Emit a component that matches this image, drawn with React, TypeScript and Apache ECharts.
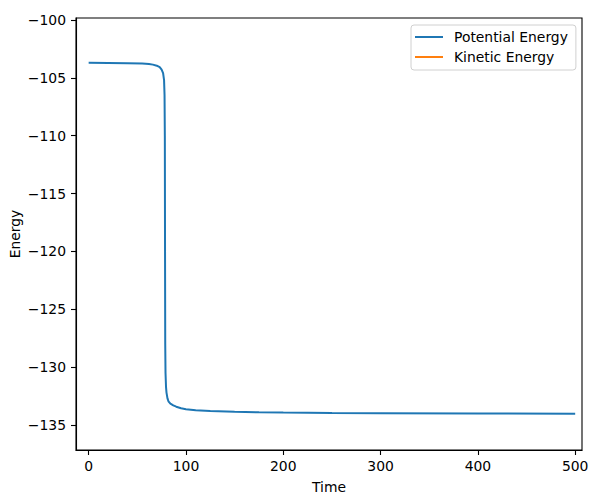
import React, { useEffect, useRef } from "react";
import * as echarts from "echarts";

const timeValues = [0, 20, 40, 55, 62, 66, 70, 73, 75, 76.5, 77.5, 78, 78.3, 78.5, 78.7, 79, 79.5, 80, 81, 82, 84, 87, 90, 95, 100, 110, 125, 150, 175, 200, 250, 300, 400, 500];
const potentialEnergy = [-103.7, -103.71, -103.73, -103.76, -103.8, -103.86, -103.95, -104.08, -104.3, -104.6, -105.2, -106.5, -110, -120, -128, -130.5, -131.7, -132.2, -132.7, -132.95, -133.15, -133.3, -133.42, -133.55, -133.63, -133.72, -133.8, -133.86, -133.9, -133.93, -133.96, -133.98, -134.0, -134.02];
const kineticEnergy: number[] = [];
const xTicks = [0, 100, 200, 300, 400, 500];
const yTicks = [-135, -130, -125, -120, -115, -110, -105, -100];

const FONT = "DejaVu Sans";
const FS = 13.9;
const LINE_ICON = "path://M0,6 L28,6 L28,8 L0,8 Z";

export default function App() {
  const ref = useRef<HTMLDivElement>(null);
  useEffect(() => {
    const chart = echarts.init(ref.current!, null, { renderer: "svg" });
    const minus = (v: number | string) => String(v).replace("-", "\u2212");
    chart.setOption({
      animation: false,
      backgroundColor: "#ffffff",
      textStyle: { fontFamily: FONT },
      grid: { left: 76, right: 17, top: 18, bottom: 48, containLabel: false, outerBoundsMode: "none", show: true, borderColor: "#000", borderWidth: 1.1, backgroundColor: "transparent" },
      legend: {
        orient: "vertical",
        left: 411,
        top: 25,
        padding: [5, 8, 6, 4],
        itemGap: 6,
        itemWidth: 28,
        itemHeight: 14,
        borderColor: "#d0d0d0",
        borderWidth: 1,
        borderRadius: 3,
        backgroundColor: "rgba(255,255,255,0.8)",
        textStyle: { fontFamily: FONT, fontSize: FS, color: "#000", padding: [0, 0, 0, 6] },
        data: [
          { name: "Potential Energy", icon: LINE_ICON, itemStyle: { color: "#1f77b4" } },
          { name: "Kinetic Energy", icon: LINE_ICON, itemStyle: { color: "#ff7f0e" } },
        ],
      },
      xAxis: {
        type: "value",
        min: -13,
        max: 507,
        name: "Time",
        nameLocation: "middle",
        nameGap: 30,
        nameMoveOverlap: false,
        nameTextStyle: { fontFamily: FONT, fontSize: FS, color: "#000" },
        splitLine: { show: false },
        axisLine: { show: true, onZero: false, lineStyle: { color: "#000", width: 1.1 } },
        axisTick: { show: true, inside: false, length: 5, customValues: xTicks, lineStyle: { color: "#000", width: 1.1 } },
        axisLabel: { customValues: xTicks, margin: 9, fontFamily: FONT, fontSize: FS, color: "#000", formatter: (v: number) => minus(v) },
      },
      yAxis: {
        type: "value",
        min: -137.16,
        max: -99.83,
        name: "Energy",
        nameLocation: "middle",
        nameGap: 54.5,
        nameMoveOverlap: false,
        nameRotate: 90,
        nameTextStyle: { fontFamily: FONT, fontSize: FS, color: "#000" },
        splitLine: { show: false },
        axisLine: { show: true, onZero: false, lineStyle: { color: "#000", width: 1.1 } },
        axisTick: { show: true, inside: false, length: 5, customValues: yTicks, lineStyle: { color: "#000", width: 1.1 } },
        axisLabel: { customValues: yTicks, margin: 10, fontFamily: FONT, fontSize: FS, color: "#000", formatter: (v: number) => minus(v) },
      },
      series: [
        {
          name: "Potential Energy",
          type: "line",
          data: timeValues.map((t, i) => [t, potentialEnergy[i]]),
          showSymbol: false,
          symbol: "none",
          lineStyle: { color: "#1f77b4", width: 2 },
          itemStyle: { color: "#1f77b4" },
        },
        {
          name: "Kinetic Energy",
          type: "line",
          data: kineticEnergy.map((v, i) => [timeValues[i], v]),
          showSymbol: false,
          symbol: "none",
          lineStyle: { color: "#ff7f0e", width: 2 },
          itemStyle: { color: "#ff7f0e" },
        },
      ],
    });
    return () => chart.dispose();
  }, []);
  return <div ref={ref} style={{ width: 599, height: 498, position: "absolute", left: 0, top: 0 }} />;
}
